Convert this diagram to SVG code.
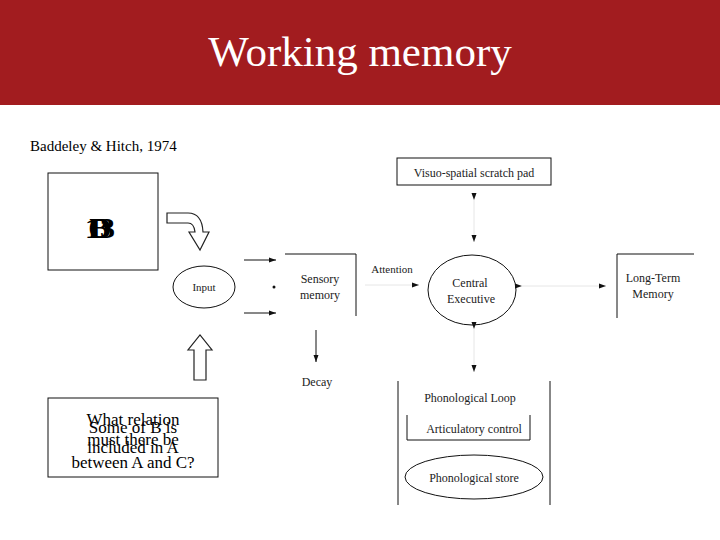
<svg xmlns="http://www.w3.org/2000/svg" width="720" height="540" viewBox="0 0 720 540">
<style>
text{font-family:"Liberation Serif","Times New Roman",serif;fill:#000}
.s{font-size:12px;text-anchor:middle;fill:#222}
.ln{stroke:#111;stroke-width:1;fill:none}
.hl{stroke:#222;stroke-width:1.2;fill:#fff}
.st{font-size:30px;font-weight:bold;text-anchor:middle}
.q{font-size:17px;text-anchor:middle}
</style>
<defs>
<marker id="ah" markerWidth="8" markerHeight="8" refX="7" refY="4" orient="auto" markerUnits="userSpaceOnUse"><path d="M0,1.5 L7,4 L0,6.5 z" fill="#111"/></marker>
</defs>
<rect width="720" height="540" fill="#fff"/>
<g id="title"><rect x="0" y="0" width="720" height="105" fill="#A21C1F"/><text x="360" y="66" font-size="43" text-anchor="middle" style="fill:#fff">Working memory</text></g>
<text x="30" y="151" font-size="15">Baddeley &amp; Hitch, 1974</text>
<g id="stimulus"><rect x="48" y="173" width="110" height="97" class="ln"/>
<text x="100" y="238" class="st">B</text>
<text x="100" y="238" class="st">13</text>
<text x="100" y="238" class="st">D</text>
<text x="100" y="238" class="st">O</text></g>
<g id="question"><rect x="48" y="398" width="170" height="79" class="ln"/>
<text x="133" y="425" class="q">What relation</text>
<text x="133" y="433" class="q">Some of B is</text>
<text x="133" y="445" class="q">must there be</text>
<text x="133" y="453" class="q">included in A</text>
<text x="133" y="468" class="q">between A and C?</text></g>
<g id="bigarrows">
<path class="hl" d="M167,223 L167,213 L188,213 Q202,213 203,232 L209,232 L200,250 L189,232 L195,232 Q194,223 188,223 Z"/>
<path class="hl" d="M194,380 L194,350 L188,350 L200,335 L212,350 L206,350 L206,380 Z"/>
</g>
<g id="input"><ellipse cx="204" cy="287" rx="31" ry="21" class="ln"/><text x="204" y="291" class="s" style="font-size:11px">Input</text></g>
<g id="sensory"><path class="ln" d="M285,254 L356,254 L356,316"/><text x="320" y="283" class="s">Sensory</text><text x="320" y="299" class="s">memory</text></g>
<g id="decay"><text x="317" y="386" class="s">Decay</text></g>
<g id="attention"><text x="392" y="273" class="s" style="font-size:11px">Attention</text></g>
<g id="central"><ellipse cx="472" cy="290" rx="44" ry="35" class="ln"/><text x="470" y="287" class="s">Central</text><text x="471" y="303" class="s">Executive</text></g>
<g id="visuo"><rect x="397" y="158" width="154" height="27" class="ln"/><text x="474" y="177" class="s">Visuo-spatial scratch pad</text></g>
<g id="ltm"><path class="ln" d="M617,318 L617,254 L694,254"/><text x="653" y="282" class="s">Long-Term</text><text x="653" y="298" class="s">Memory</text></g>
<g id="phon"><path class="ln" d="M398,381 L398,505 M550,381 L550,505"/><text x="470" y="402" class="s">Phonological Loop</text>
<path class="ln" d="M407,415 L407,440 L530,440 L530,415"/><text x="474" y="433" class="s">Articulatory control</text>
<ellipse cx="474" cy="477" rx="69" ry="22" class="ln"/><text x="474" y="482" class="s">Phonological store</text></g>
<g id="connectors">
<line x1="244" y1="260" x2="276" y2="260" class="ln" marker-end="url(#ah)"/>
<circle cx="274" cy="287" r="1.5" fill="#111"/>
<line x1="244" y1="313" x2="276" y2="313" class="ln" marker-end="url(#ah)"/>
<line x1="316" y1="330" x2="316" y2="362" class="ln" marker-end="url(#ah)"/>
<line x1="365" y1="285" x2="419" y2="285" stroke="#e6e6e6" marker-end="url(#ah)"/>
<line x1="474" y1="200" x2="474" y2="242" stroke="#e6e6e6" marker-start="url(#ah)" marker-end="url(#ah)"/>
<line x1="474" y1="329" x2="474" y2="372" stroke="#e6e6e6" marker-start="url(#ah)" marker-end="url(#ah)"/>
<line x1="522" y1="286" x2="606" y2="286" stroke="#e6e6e6" marker-start="url(#ah)" marker-end="url(#ah)"/>
</g>
</svg>
